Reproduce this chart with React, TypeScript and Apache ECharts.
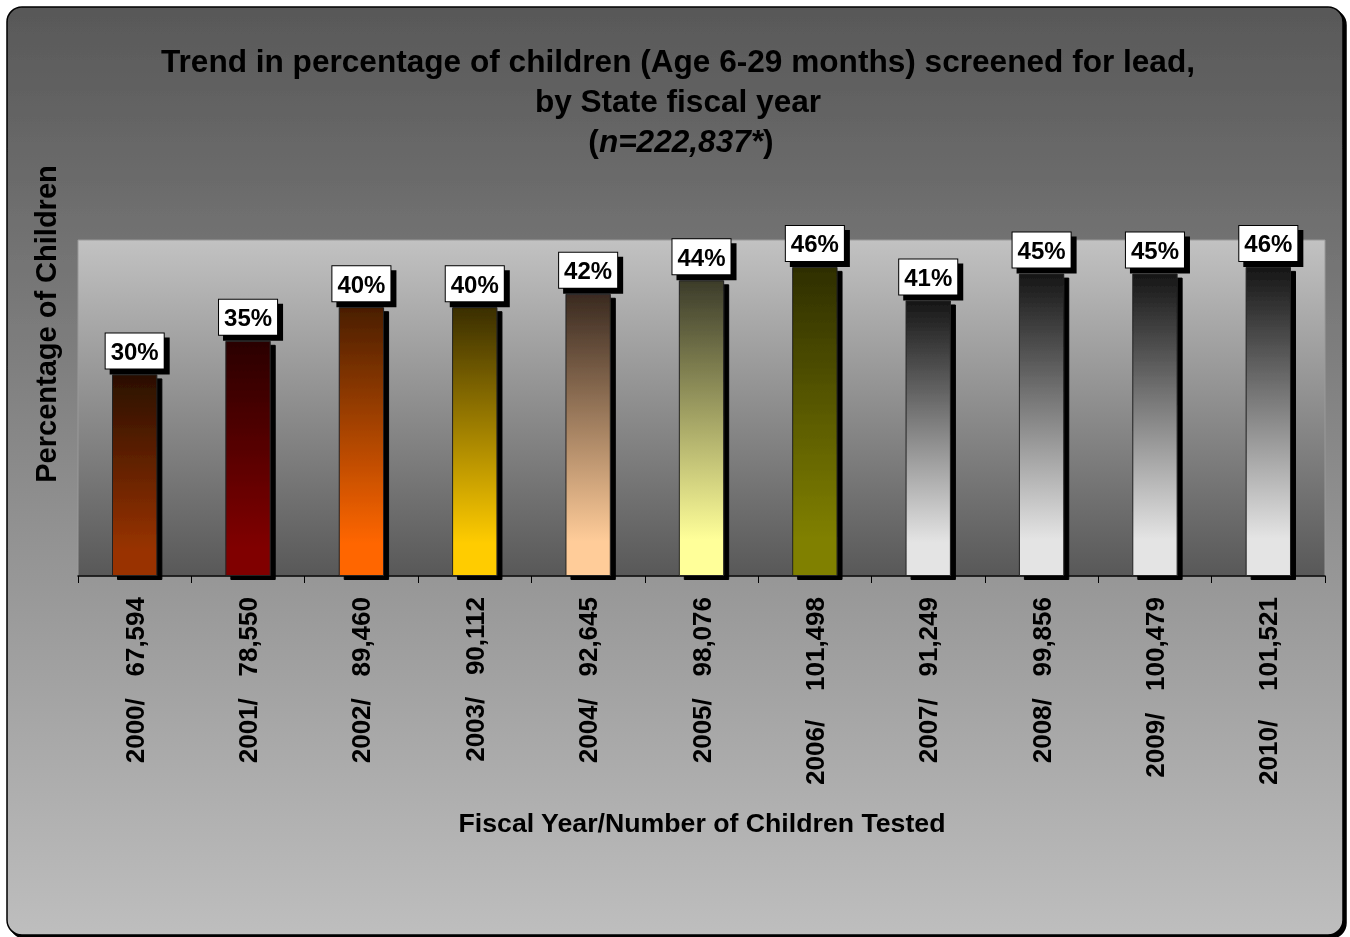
import React, { useEffect, useRef } from "react";
import * as echarts from "echarts";

const categories = [
  "2000/   67,594",
  "2001/   78,550",
  "2002/   89,460",
  "2003/   90,112",
  "2004/   92,645",
  "2005/   98,076",
  "2006/    101,498",
  "2007/   91,249",
  "2008/   99,856",
  "2009/   100,479",
  "2010/    101,521",
];
const percentages = [30, 35, 40, 40, 42, 44, 46, 41, 45, 45, 46];
const barTopColors = [
  "#2a0f00", "#2a0000", "#4a1e00", "#3a2e00", "#3a2a20", "#3c3c2a",
  "#2e2e00", "#161616", "#161616", "#161616", "#161616",
];
const barBottomColors = [
  "#993300", "#800000", "#ff6600", "#ffcc00", "#ffcc99", "#ffff99",
  "#808000", "#e4e4e4", "#e4e4e4", "#e4e4e4", "#e4e4e4",
];
const titleLine1 = "Trend in percentage of children (Age 6-29 months) screened for lead,";
const titleLine2 = "by State fiscal year";
const titleLine3Parts = ["(", "n=222,837*", ")"];
const yAxisTitle = "Percentage of Children";
const xAxisTitle = "Fiscal Year/Number of Children Tested";

const FONT = "'Liberation Sans', Arial, Helvetica, sans-serif";

export default function App() {
  const ref = useRef<HTMLDivElement>(null);

  useEffect(() => {
    if (!ref.current) return;
    const chart = echarts.init(ref.current, undefined, { renderer: "svg" });

    const barData = percentages.map((v, i) => ({
      value: v,
      itemStyle: {
        color: new echarts.graphic.LinearGradient(0, 0, 0, 1, [
          { offset: 0, color: barTopColors[i] },
          { offset: 0.88, color: barBottomColors[i] },
          { offset: 1, color: barBottomColors[i] },
        ]),
      },
    }));

    const titleStyle = {
      fontFamily: FONT,
      fontSize: 31.6,
      fontWeight: "bold",
      fill: "#000",
      textAlign: "center",
      textVerticalAlign: "middle",
    };

    const option: any = {
      animation: false,
      backgroundColor: "transparent",
      graphic: [
        {
          type: "rect",
          z: -10,
          silent: true,
          shape: { x: 7, y: 7, width: 1336, height: 928, r: 15 },
          style: {
            fill: new echarts.graphic.LinearGradient(0, 0, 0, 1, [
              { offset: 0, color: "#585858" },
              { offset: 1, color: "#bebebe" },
            ]),
            stroke: "#000",
            lineWidth: 1.5,
            shadowColor: "#000",
            shadowBlur: 0,
            shadowOffsetX: 3,
            shadowOffsetY: 3,
          },
        },
        {
          type: "text",
          x: 678,
          y: 61,
          style: { ...titleStyle, text: titleLine1 },
        },
        {
          type: "text",
          x: 678,
          y: 101,
          style: { ...titleStyle, text: titleLine2 },
        },
        {
          type: "text",
          x: 681,
          y: 141,
          style: {
            ...titleStyle,
            text:
              "{a|" + titleLine3Parts[0] + "}{b|" + titleLine3Parts[1] + "}{a|" + titleLine3Parts[2] + "}",
            rich: {
              a: { fontFamily: FONT, fontSize: 31.6, fontWeight: "bold", fill: "#000", textFill: "#000" },
              b: { fontFamily: FONT, fontSize: 31.6, fontWeight: "bold", fontStyle: "italic", fill: "#000", textFill: "#000" },
            },
          },
        },
        {
          type: "text",
          x: 46,
          y: 324,
          rotation: Math.PI / 2,
          style: {
            text: yAxisTitle,
            fontFamily: FONT,
            fontSize: 29,
            fontWeight: "bold",
            fill: "#000",
            textAlign: "center",
            textVerticalAlign: "middle",
          },
        },
        {
          type: "text",
          x: 702,
          y: 823,
          style: {
            text: xAxisTitle,
            fontFamily: FONT,
            fontSize: 26.7,
            fontWeight: "bold",
            fill: "#000",
            textAlign: "center",
            textVerticalAlign: "middle",
          },
        },
      ],
      grid: {
        left: 78,
        right: 25,
        top: 240,
        bottom: 361,
        show: true,
        backgroundColor: new echarts.graphic.LinearGradient(0, 0, 0, 1, [
          { offset: 0, color: "#c2c2c2" },
          { offset: 1, color: "#585858" },
        ]),
        borderColor: "#9a9a9a",
        borderWidth: 1,
      },
      xAxis: {
        type: "category",
        data: categories,
        boundaryGap: true,
        axisLine: { show: true, lineStyle: { color: "#000", width: 1.5 } },
        axisTick: { show: true, length: 7, lineStyle: { color: "#000", width: 1 } },
        axisLabel: {
          rotate: 90,
          margin: 21,
          interval: 0,
          fontFamily: FONT,
          fontSize: 26,
          fontWeight: "bold",
          color: "#000",
        },
        splitLine: { show: false },
      },
      yAxis: {
        type: "value",
        min: 0,
        max: 50,
        show: true,
        axisLine: { show: false },
        axisTick: { show: false },
        axisLabel: { show: false },
        splitLine: { show: false },
      },
      series: [
        {
          type: "bar",
          data: barData,
          barWidth: "40%",
          itemStyle: {
            borderColor: "#222",
            borderWidth: 1,
            shadowColor: "#000",
            shadowBlur: 0,
            shadowOffsetX: 5,
            shadowOffsetY: 4,
          },
          label: {
            show: true,
            position: "top",
            distance: 6,
            formatter: "{c}%",
            fontFamily: FONT,
            fontSize: 24,
            fontWeight: "bold",
            color: "#000",
            lineHeight: 26,
            backgroundColor: "#fff",
            borderColor: "#000",
            borderWidth: 1,
            padding: [5, 5, 4, 5],
            shadowColor: "#000",
            shadowBlur: 0,
            shadowOffsetX: 5,
            shadowOffsetY: 5,
          },
        },
      ],
    };

    chart.setOption(option);
    return () => chart.dispose();
  }, []);

  return (
    <div
      ref={ref}
      style={{ position: "fixed", left: 0, top: 0, width: 1350, height: 937 }}
    />
  );
}
